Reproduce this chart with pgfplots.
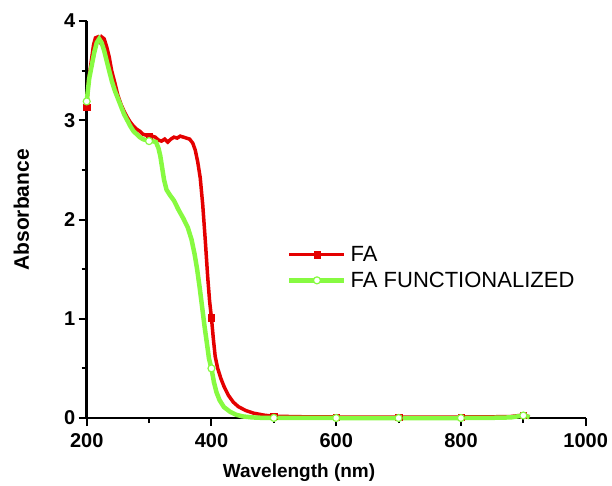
\documentclass[border=0pt]{standalone}
\usepackage{fontspec}
\setmainfont{Liberation Sans}
\usepackage{pgfplots}
\pgfplotsset{compat=1.18}

\definecolor{fared}{RGB}{228,0,0}
\definecolor{fagreen}{RGB}{135,250,65}

\pgfplotstableread{
x y
200 3.13
203 3.40
207 3.58
211 3.76
214 3.83
218 3.84
221 3.80
224 3.84
228 3.82
232 3.74
236 3.64
240 3.50
245 3.38
250 3.25
255 3.16
260 3.09
265 3.03
270 2.98
275 2.94
280 2.91
285 2.89
290 2.86
295 2.85
300 2.84
305 2.84
310 2.83
315 2.80
320 2.79
325 2.81
330 2.78
335 2.81
340 2.83
345 2.82
350 2.84
355 2.83
360 2.82
365 2.81
370 2.77
374 2.70
378 2.58
382 2.42
386 2.15
390 1.80
394 1.42
397 1.18
400 1.01
403 0.80
406 0.62
410 0.50
415 0.40
420 0.32
427 0.23
435 0.16
443 0.115
455 0.075
468 0.048
485 0.028
500 0.018
550 0.012
600 0.010
650 0.008
700 0.008
750 0.008
800 0.010
850 0.012
880 0.015
900 0.030
910 0.012
}\fa

\pgfplotstableread{
x y
200 3.19
204 3.42
208 3.55
212 3.68
216 3.78
220 3.82
224 3.78
228 3.70
232 3.60
236 3.50
240 3.40
245 3.30
250 3.22
255 3.14
260 3.06
265 3.00
270 2.94
275 2.89
280 2.86
285 2.83
290 2.81
300 2.79
306 2.79
311 2.78
315 2.72
318 2.64
321 2.52
324 2.40
328 2.30
333 2.25
340 2.19
347 2.10
355 2.01
362 1.92
368 1.80
373 1.65
377 1.50
381 1.32
385 1.12
389 0.92
393 0.74
396 0.60
400 0.50
404 0.36
408 0.26
413 0.18
420 0.11
430 0.062
440 0.032
450 0.016
465 0.006
480 0.002
500 0.001
600 0.0
700 0.0
800 0.0
850 0.002
880 0.006
900 0.025
910 0.008
}\fafunc

\begin{document}
\begin{tikzpicture}
\useasboundingbox (0pt,0pt) rectangle (612pt,485pt);
\begin{axis}[
    at={(86.7pt,67pt)}, anchor=south west,
    scale only axis,
    width=499pt, height=397pt,
    xmin=200, xmax=1000, ymin=0, ymax=4,
    clip=false,
    axis lines=left,
    axis line style={-, line width=2.5pt, black},
    xtick={200,400,600,800,1000},
    minor xtick={300,500,700,900},
    ytick={0,1,2,3,4},
    minor ytick={0.5,1.5,2.5,3.5},
    tick align=outside,
    major tick length=8pt,
    minor tick length=5pt,
    tick style={line width=2pt, black},
    /pgf/number format/assume math mode=true,
    /pgf/number format/1000 sep={},
    ticklabel style={font=\fontsize{20}{24}\selectfont\bfseries},
    xticklabel style={yshift=-4pt},
    xlabel={Wavelength (nm)},
    ylabel={Absorbance},
    xlabel style={font=\fontsize{19}{23}\selectfont\bfseries, at={(axis description cs:0.4255,-0.1378)}, anchor=center},
    ylabel style={font=\fontsize{21}{25}\selectfont\bfseries, at={(axis description cs:-0.1307,0.524)}, anchor=center},
    legend image code/.code={
        \draw[#1, mark indices={2}] plot coordinates {(0pt,0pt) (27.5pt,0pt) (55pt,0pt)};
    },
    legend style={at={(axis description cs:0.3954,0.379)}, anchor=west,
        draw=none, fill=none, font=\fontsize{22}{26}\selectfont,
        row sep=5pt, column sep=2pt, nodes={inner sep=2pt}},
    legend cell align=left,
]
\addplot[color=fared, line width=3.5pt, mark=square*, mark size=3.2pt,
    mark options={fill=fared, draw=fared, line width=0.5pt},
    mark indices={1,24,46,58,60,62,64,67}] table[x=x, y=y] {\fa};
\addlegendentry{FA}
\addplot[color=fagreen, line width=4.5pt, mark=*, mark size=3.5pt,
    mark options={fill=white, draw=fagreen, line width=1.2pt},
    mark indices={1,22,43,53,54,55,56,59}] table[x=x, y=y] {\fafunc};
\addlegendentry{FA FUNCTIONALIZED}
\end{axis}
\end{tikzpicture}
\end{document}
